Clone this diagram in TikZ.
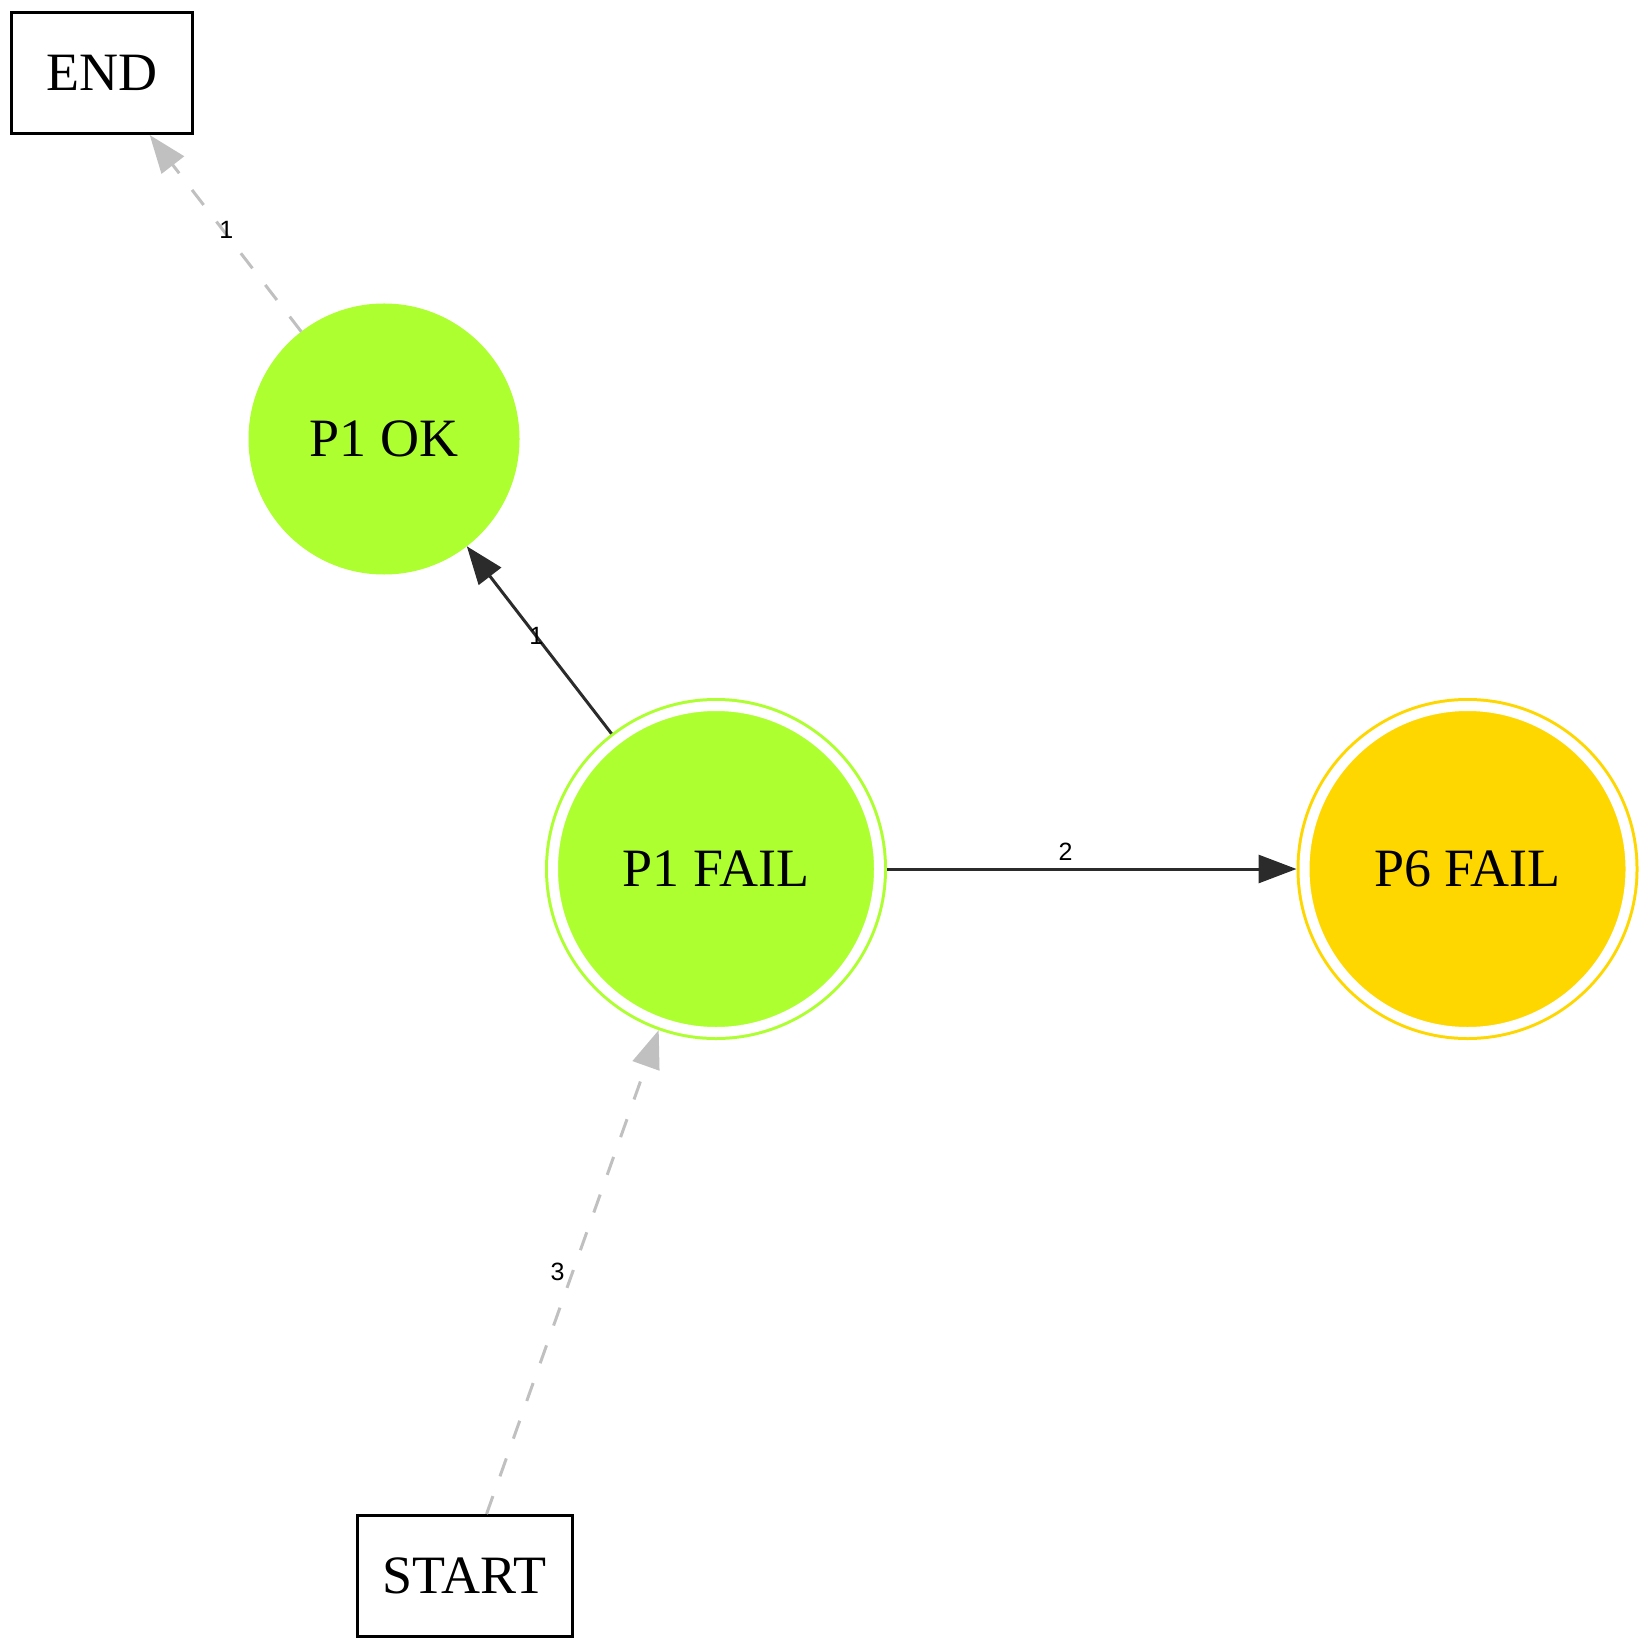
\documentclass[tikz,border=0pt]{standalone}
\usepackage{fontspec}
\setmainfont{Liberation Serif}
\setsansfont{Liberation Sans}
\usetikzlibrary{arrows.meta,positioning}
\definecolor{okgreen}{HTML}{ADFF2F}
\definecolor{failgold}{HTML}{FFD700}
\definecolor{edgedark}{HTML}{2B2B2B}
\definecolor{edgegray}{HTML}{C0C0C0}

\begin{document}
\begin{tikzpicture}[x=0.4pt,y=-0.4pt,
state/.style={circle,inner sep=0pt,font=\fontsize{21.6}{25}\selectfont},
okstate/.style={state,fill=okgreen,draw=okgreen,minimum size=108pt},
failstate/.style={state,fill=#1,draw=#1,line width=1.2pt,double=white,
  double distance=4pt,minimum size=130.4pt,outer sep=3.2pt},
term/.style={rectangle,draw,line width=1.2pt,minimum height=48.4pt,
  font=\fontsize{21.6}{25}\selectfont},
edge/.style={draw=edgedark,line width=1.2pt,-{Triangle[length=15.2pt,width=11.2pt]}},
skip/.style={draw=edgegray,line width=1.2pt,dash pattern=on 7.6pt off 8.4pt,
  -{Triangle[length=15.2pt,width=11.2pt,fill=edgegray]}},
lbl/.style={font=\sffamily\fontsize{10}{12}\selectfont,inner sep=1pt}]
\useasboundingbox (0,0) rectangle (1649,1650);
% terminal boxes
\node[term,minimum width=72.4pt] (end) at (102,73) {END};
\node[term,minimum width=86pt] (start) at (464.5,1576) {START};
% states
\node[okstate] (p1ok) at (384,439) {P1 OK};
\node[failstate=okgreen] (p1fail) at (716,869) {P1 FAIL};
\node[failstate=failgold] (p6fail) at (1467.5,869) {P6 FAIL};
% transitions
\draw[skip] (start) -- node[lbl,pos=0.5,xshift=-6pt] {3} (p1fail);
\draw[edge] (p1fail) -- node[lbl,pos=0.52] {1} (p1ok);
\draw[edge] (p1fail) -- node[lbl,pos=0.436,yshift=7pt] {2} (p6fail);
\draw[skip] (p1ok) -- node[lbl,pos=0.52,xshift=1.5pt] {1} (end);
\end{tikzpicture}
\end{document}
